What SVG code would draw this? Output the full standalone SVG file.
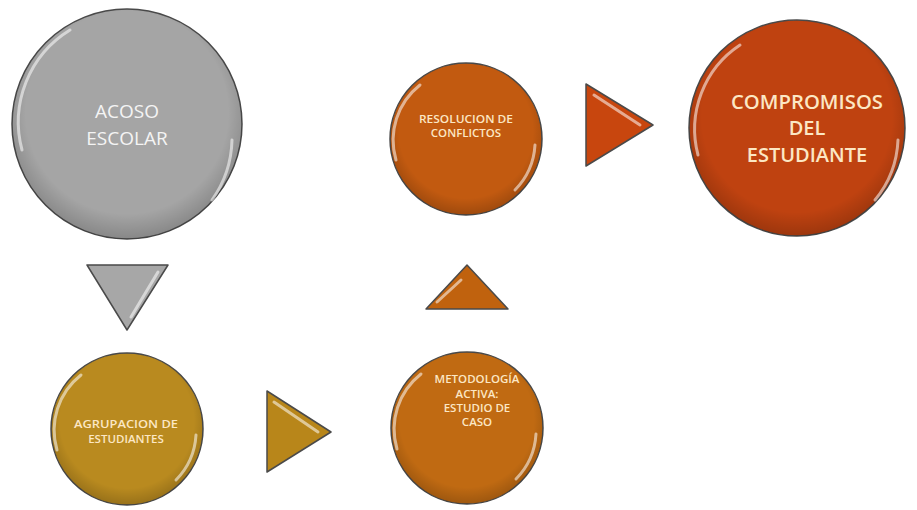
<svg xmlns="http://www.w3.org/2000/svg" width="917" height="510" viewBox="0 0 917 510">
<style>
.t{font-family:"Open Sans","Liberation Sans",sans-serif;text-anchor:middle}
.big{font-size:19px}
.sm{font-size:11.5px;font-weight:600}
.pale{fill:#FCE7C4}
.edge{stroke:#4a4a4a;stroke-width:1.5}
.gl{fill:none;stroke:#ffffff;stroke-opacity:0.55;stroke-width:3;stroke-linecap:round}
</style>
<defs>
<radialGradient id="shade" cx="50%" cy="45%" r="55%">
<stop offset="0.8" stop-color="#000" stop-opacity="0"/>
<stop offset="1" stop-color="#000" stop-opacity="0.18"/>
</radialGradient>
</defs>
<rect width="917" height="510" fill="#ffffff"/>
<g id="connectors">
<g id="arrow-down">
<polygon points="87,265 168,265 127,330" fill="#A7A7A7" class="edge" stroke-linejoin="round"/>
<path d="M158,272 L131,317" class="gl"/>
</g>
<g id="arrow-right-1">
<polygon points="267,391 331,432 267,472" fill="#B8861A" class="edge" stroke-linejoin="round"/>
<path d="M274,402 L318,432" class="gl"/>
</g>
<g id="arrow-up">
<polygon points="467,265 508,309 426,309" fill="#C0620E" class="edge" stroke-linejoin="round"/>
<path d="M461,280 L437,302" class="gl"/>
</g>
<g id="arrow-right-2">
<polygon points="586,84 653,125 586,166" fill="#C8460E" class="edge" stroke-linejoin="round"/>
<path d="M594,95 L640,125" class="gl"/>
</g>
</g>
<g id="node-acoso">
<circle cx="127" cy="124" r="115" fill="#A5A5A5" class="edge"/>
<circle cx="127" cy="124" r="115" fill="url(#shade)"/>
<path d="M22,150 A108,108 0 0 1 70,30" class="gl"/>
<path d="M212,200 A108,108 0 0 0 232,140" class="gl"/>
<text class="t big" fill="#F4F4F4" x="127" y="118">ACOSO</text>
<text class="t big" fill="#F4F4F4" x="127" y="145">ESCOLAR</text>
</g>
<g id="node-resolucion">
<circle cx="466" cy="139" r="76" fill="#C25A10" class="edge"/>
<circle cx="466" cy="139" r="76" fill="url(#shade)"/>
<path d="M396,160 A70,70 0 0 1 420,85" class="gl"/>
<path d="M515,190 A70,70 0 0 0 535,145" class="gl"/>
<text class="t sm pale" x="466" y="123" textLength="94" lengthAdjust="spacingAndGlyphs">RESOLUCION DE</text>
<text class="t sm pale" x="466" y="137">CONFLICTOS</text>
</g>
<g id="node-compromisos">
<circle cx="797" cy="128" r="108" fill="#BF4210" class="edge"/>
<circle cx="797" cy="128" r="108" fill="url(#shade)"/>
<path d="M698,155 A101,101 0 0 1 740,45" class="gl"/>
<path d="M875,200 A101,101 0 0 0 898,140" class="gl"/>
<text class="t pale" style="font-size:20px;font-weight:600" x="807" y="109" textLength="152" lengthAdjust="spacingAndGlyphs">COMPROMISOS</text>
<text class="t pale" style="font-size:20px;font-weight:600" x="807" y="135">DEL</text>
<text class="t pale" style="font-size:20px;font-weight:600" x="807" y="162">ESTUDIANTE</text>
</g>
<g id="node-agrupacion">
<circle cx="127" cy="429" r="76" fill="#B98A1F" class="edge"/>
<circle cx="127" cy="429" r="76" fill="url(#shade)"/>
<path d="M57,450 A70,70 0 0 1 81,375" class="gl"/>
<path d="M176,480 A70,70 0 0 0 196,435" class="gl"/>
<text class="t sm pale" x="126" y="428" textLength="104" lengthAdjust="spacingAndGlyphs">AGRUPACION DE</text>
<text class="t sm pale" x="126" y="443">ESTUDIANTES</text>
</g>
<g id="node-metodologia">
<circle cx="467" cy="428" r="76" fill="#C06A12" class="edge"/>
<circle cx="467" cy="428" r="76" fill="url(#shade)"/>
<path d="M397,449 A70,70 0 0 1 421,374" class="gl"/>
<path d="M516,479 A70,70 0 0 0 536,434" class="gl"/>
<text class="t sm pale" x="477" y="383">METODOLOGÍA</text>
<text class="t sm pale" x="477" y="398">ACTIVA:</text>
<text class="t sm pale" x="477" y="412">ESTUDIO DE</text>
<text class="t sm pale" x="477" y="426">CASO</text>
</g>
</svg>
